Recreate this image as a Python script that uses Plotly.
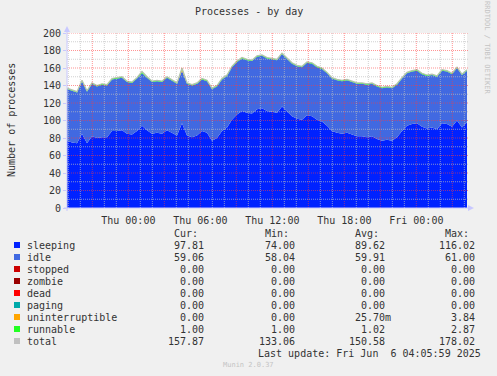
import plotly.graph_objects as go
import pandas as pd

# ---------------- data ----------------
start_time = "2025-06-04 18:53:20"
end_time = "2025-06-06 04:13:20"
sample_step = "25min"

sleeping = [77, 75, 74, 85, 74, 82, 80, 81, 81, 88, 88, 89, 85, 84, 88, 94, 89, 85, 86, 85,
            89, 86, 83, 97, 83, 81, 83, 88, 86, 77, 80, 88, 92, 101, 107, 111, 109, 108, 113, 114,
            111, 110, 109, 116, 110, 105, 102, 101, 106, 105, 101, 99, 94, 88, 86, 85, 86, 84, 82, 82,
            81, 82, 79, 77, 78, 77, 81, 88, 94, 96, 97, 93, 91, 92, 90, 97, 96, 93, 100, 92, 98]
idle = [59, 59, 58, 60, 59, 60, 59, 60, 59, 59, 60, 60, 59, 59, 60, 60, 60, 59, 59, 59,
        60, 59, 59, 60, 59, 59, 59, 59, 59, 59, 59, 59, 59, 60, 60, 60, 60, 60, 60, 60,
        60, 60, 60, 60, 60, 60, 60, 60, 60, 60, 60, 60, 60, 60, 60, 60, 60, 60, 60, 60,
        60, 60, 60, 60, 60, 60, 60, 60, 60, 60, 60, 60, 60, 60, 60, 60, 60, 60, 60, 60, 59]
uninterruptible = [0] * 23 + [2] + [0] * 57
runnable = [1] * 15 + [2] + [1] * 65

series_names = ["sleeping", "idle", "stopped", "zombie", "dead", "paging",
                "uninterruptible", "runnable", "total"]
series_colors = ["#0022ff", "#4169e1", "#cc0000", "#990000", "#ff0000", "#00aaaa",
                 "#ffa500", "#22ff22", "#c0c0c0"]
cur_vals = ["97.81", "59.06", "0.00", "0.00", "0.00", "0.00", "0.00", "1.00", "157.87"]
min_vals = ["74.00", "58.04", "0.00", "0.00", "0.00", "0.00", "0.00", "1.00", "133.06"]
avg_vals = ["89.62", "59.91", "0.00", "0.00", "0.00", "0.00", "25.70m", "1.02", "150.58"]
max_vals = ["116.02", "61.00", "0.00", "0.00", "0.00", "0.00", "3.84", "2.87", "178.02"]

x_tick_vals = ["2025-06-05 00:00", "2025-06-05 06:00", "2025-06-05 12:00",
               "2025-06-05 18:00", "2025-06-06 00:00"]
x_tick_text = ["Thu 00:00", "Thu 06:00", "Thu 12:00", "Thu 18:00", "Fri 00:00"]
y_tick_vals = [0, 20, 40, 60, 80, 100, 120, 140, 160, 180, 200]

title_text = "Processes - by day"
y_title = "Number of processes"
last_update = "Last update: Fri Jun\u00a0\u00a06 04:05:59 2025"
footer = "Munin 2.0.37"
side_text = "RRDTOOL / TOBI OETIKER"

# ---------------- figure ----------------
W, H = 497, 376
L, R, T, B = 67, 30, 33, 168
PW, PH = W - L - R, H - T - B


def PX(x):
    return (x - L) / PW


def PY(y):
    return (H - B - y) / PH


times = pd.date_range(start_time, periods=len(sleeping), freq=sample_step)
zeros = [0] * len(sleeping)
stack = [sleeping, idle, zeros, zeros, zeros, zeros, uninterruptible, runnable]
total = [sum(v) for v in zip(*stack)]

FONT = "DejaVu Sans Mono"
TXT = "#333333"

fig = go.Figure()
for name, color, vals in zip(series_names[:8], series_colors[:8], stack):
    fig.add_trace(go.Scatter(x=times, y=vals, name=name, stackgroup="s",
                             mode="lines", line=dict(width=0, color=color),
                             fillcolor=color, hoverinfo="skip"))
fig.add_trace(go.Scatter(x=times, y=total, name="total", mode="lines",
                         line=dict(width=1.2, color="#b4c2ac"), hoverinfo="skip"))

shapes = []
# grid lines (drawn above the data like rrdtool)
t0 = pd.Timestamp(start_time)
t1 = pd.Timestamp(end_time)
h = t0.ceil("h")
while h <= t1:
    major = h.hour % 3 == 0
    shapes.append(dict(type="line", xref="x", yref="paper", x0=h, x1=h, y0=0, y1=1,
                       layer="above",
                       line=dict(width=1, dash="1px,1px",
                                 color="rgba(255,60,60,0.55)" if major else "rgba(190,190,190,0.7)")))
    h += pd.Timedelta(hours=1)
for v in range(10, 201, 10):
    major = v % 20 == 0
    shapes.append(dict(type="line", xref="paper", yref="y", x0=0, x1=1.005, y0=v, y1=v,
                       layer="above",
                       line=dict(width=1, dash="1px,1px",
                                 color="rgba(255,60,60,0.55)" if major else "rgba(190,190,190,0.7)")))
AX = "#c8c8ff"
# axis lines + arrows
shapes.append(dict(type="line", xref="paper", yref="paper", x0=PX(67), x1=PX(67),
                   y0=PY(211), y1=PY(31), line=dict(width=1, color=AX)))
shapes.append(dict(type="line", xref="paper", yref="paper", x0=PX(64), x1=PX(469),
                   y0=PY(208), y1=PY(208), line=dict(width=1, color=AX)))
shapes.append(dict(type="path", xref="paper", yref="paper",
                   path=f"M {PX(64)} {PY(32)} L {PX(70)} {PY(32)} L {PX(67)} {PY(26)} Z",
                   fillcolor=AX, line=dict(width=0)))
shapes.append(dict(type="path", xref="paper", yref="paper",
                   path=f"M {PX(468)} {PY(205)} L {PX(468)} {PY(211)} L {PX(474)} {PY(208)} Z",
                   fillcolor=AX, line=dict(width=0)))

annotations = []


def txt(x, y, s, anchor="left", size=10, color=TXT, angle=0):
    annotations.append(dict(x=PX(x), y=PY(y), xref="paper", yref="paper", text=s,
                            showarrow=False, xanchor=anchor, yanchor="middle",
                            textangle=angle, borderpad=0,
                            font=dict(family=FONT, size=size, color=color)))


txt(248.5, 12, title_text, "center")
txt(11, 120, y_title, "center", angle=-90)
txt(487, 48, side_text, "center", size=7, color="#c4c4c4", angle=90)
txt(248, 365, footer, "center", size=7, color="#c4c4c4")

header_y = 233
col_ends = [205, 296, 386, 476]
for hdr, xe in zip(["Cur:", "Min:", "Avg:", "Max:"], col_ends):
    txt(xe - 6, header_y, hdr, "right")
for i, name in enumerate(series_names):
    y = 245 + 12 * i
    shapes.append(dict(type="rect", xref="paper", yref="paper",
                       x0=PX(14), x1=PX(20), y0=PY(y + 3), y1=PY(y - 3),
                       fillcolor=series_colors[i], line=dict(width=0)))
    txt(25.5, y, name, "left")
    for vals, xe in zip([cur_vals, min_vals, avg_vals, max_vals], col_ends):
        s = vals[i]
        txt(xe + (6 if s.endswith("m") else 0), y, s, "right")
txt(482, 353, last_update, "right")

fig.update_layout(
    width=W, height=H,
    margin=dict(l=L, r=R, t=T, b=B, pad=0),
    paper_bgcolor="#f0f0f0", plot_bgcolor="#ffffff",
    showlegend=False,
    shapes=shapes, annotations=annotations,
    font=dict(family=FONT, size=10, color=TXT),
    xaxis=dict(type="date", range=[start_time, end_time], showgrid=False, zeroline=False,
               tickvals=x_tick_vals, ticktext=x_tick_text, ticks="outside", ticklen=3,
               tickcolor="rgba(0,0,0,0)", showline=False,
               tickfont=dict(family=FONT, size=10, color=TXT)),
    yaxis=dict(range=[0, 200], showgrid=False, zeroline=False, tickvals=y_tick_vals,
               ticks="outside", ticklen=3, tickcolor=AX, showline=False,
               tickfont=dict(family=FONT, size=10, color=TXT)),
)

fig.write_html("out.html", config={"displayModeBar": False, "staticPlot": True},
               post_script="document.body.style.margin='0';document.body.style.overflow='hidden';")
